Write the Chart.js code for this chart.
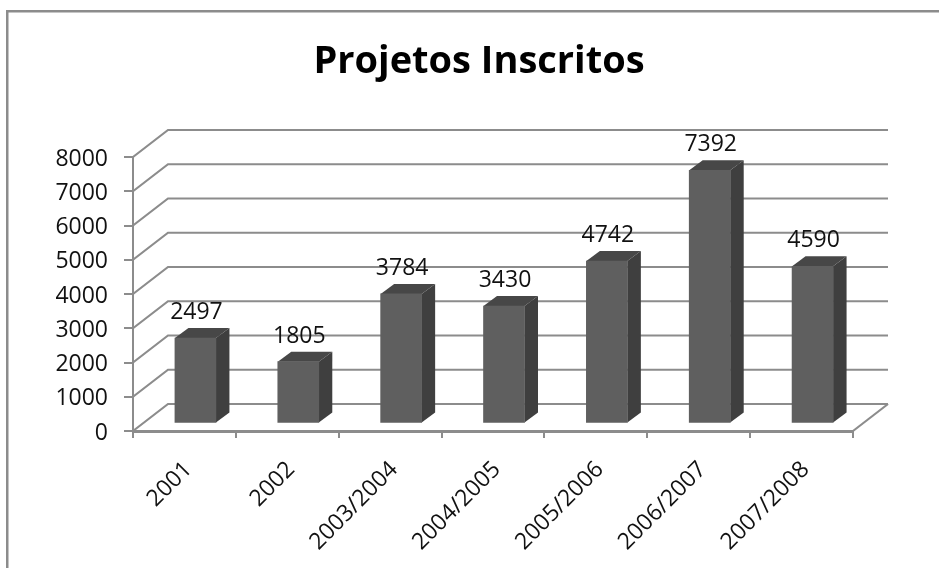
<!DOCTYPE html>
<html>
<head>
<meta charset="utf-8">
<style>html,body{margin:0;padding:0;background:#fff}#wrap{width:939px;height:568px;position:relative}</style>
<script src="https://cdn.jsdelivr.net/npm/chart.js@4"></script>
</head>
<body>
<div id="wrap"><canvas id="c" width="939" height="568"></canvas></div>
<script>
const categories = ['2001','2002','2003/2004','2004/2005','2005/2006','2006/2007','2007/2008'];
const projetos = [2497,1805,3784,3430,4742,7392,4590];
const chartTitle = 'Projetos Inscritos';

const GRID = '#8c8c8c';
const FONT = '"Open Sans"';
const wall = {dx:35, dy:-27};      // depth of the 3D box
const barShift = {dx:11, dy:-7.5}; // bars sit inside the floor
const barDepth = {dx:13.5, dy:-10};

const threeD = {
  id:'threeD',
  beforeDraw(chart){
    const c = chart.ctx;
    c.save();
    c.fillStyle = GRID;
    c.fillRect(6,10,2.5,558);
    c.fillRect(6,10,933,2.5);
    c.restore();
  },
  beforeDatasetsDraw(chart){
    const c = chart.ctx, y = chart.scales.y, a = chart.chartArea;
    c.save();
    c.strokeStyle = GRID;
    c.lineWidth = 2.2;
    y.ticks.forEach(t=>{
      const py = y.getPixelForValue(t.value);
      c.beginPath();
      c.moveTo(a.left,py);
      c.lineTo(a.left+wall.dx,py+wall.dy);
      c.lineTo(a.right+wall.dx,py+wall.dy);
      c.stroke();
    });
    c.beginPath();
    c.moveTo(a.right,a.bottom);
    c.lineTo(a.right+wall.dx,a.bottom+wall.dy);
    c.stroke();
    c.restore();
    c.save();
    c.translate(barShift.dx,barShift.dy);
    chart.getDatasetMeta(0).data.forEach(b=>{
      const l=b.x-b.width/2, r=b.x+b.width/2, t=b.y, bot=b.base;
      c.fillStyle='#3f3f3f';
      c.beginPath();
      c.moveTo(r,t);c.lineTo(r+barDepth.dx,t+barDepth.dy);
      c.lineTo(r+barDepth.dx,bot+barDepth.dy);c.lineTo(r,bot);
      c.closePath();c.fill();
      c.fillStyle='#474747';
      c.beginPath();
      c.moveTo(l,t);c.lineTo(l+barDepth.dx,t+barDepth.dy);
      c.lineTo(r+barDepth.dx,t+barDepth.dy);c.lineTo(r,t);
      c.closePath();c.fill();
    });
  },
  afterDatasetsDraw(chart){
    const c = chart.ctx;
    c.restore();
    c.save();
    c.font = '23px '+FONT;
    c.fillStyle = '#111';
    c.textAlign='center';
    c.textBaseline='middle';
    chart.getDatasetMeta(0).data.forEach((b,i)=>{
      c.fillText(String(projetos[i]), b.x+barShift.dx+1, b.y+barShift.dy-25.5);
    });
    c.restore();
  }
};

new Chart(document.getElementById('c'),{
  type:'bar',
  data:{labels:categories,datasets:[{label:chartTitle,data:projetos,backgroundColor:'#5f5f5f',barThickness:41,borderWidth:0}]},
  plugins:[threeD],
  options:{
    responsive:false,animation:false,
    layout:{padding:{left:19,right:0,top:0,bottom:0}},
    plugins:{
      legend:{display:false},tooltip:{enabled:false},
      title:{display:true,text:chartTitle,color:'#000',
        font:{family:FONT,size:38,weight:'bold',lineHeight:1.2},
        padding:{top:39,bottom:72.4}}
    },
    scales:{
      x:{
        grid:{display:true,offset:true,drawOnChartArea:false,drawTicks:true,tickLength:7,tickColor:GRID,tickWidth:2,color:GRID,lineWidth:2},
        border:{display:true,color:GRID,width:3},
        ticks:{autoSkip:false,maxRotation:45,minRotation:45,color:'#111',padding:18,labelOffset:4,font:{family:FONT,size:23}},
        afterFit(s){s.height=137;s.paddingLeft=0;s.paddingRight=86;}
      },
      y:{
        min:0,max:8000,
        grid:{display:true,drawOnChartArea:false,drawTicks:true,tickLength:9,tickColor:GRID,tickWidth:2,color:GRID,lineWidth:2},
        border:{display:true,color:GRID,width:2},
        ticks:{stepSize:1000,color:'#111',padding:16,labelOffset:2,font:{family:FONT,size:23},callback:v=>String(v)},
        afterFit(s){s.width=114;s.paddingTop=0;s.paddingBottom=0;}
      }
    }
  }
});
</script>
</body>
</html>
